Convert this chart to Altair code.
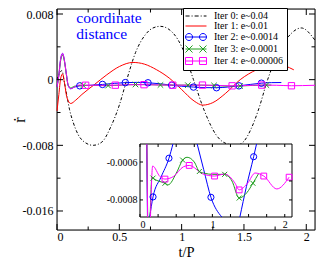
import altair as alt
import pandas as pd

SERIF = "Liberation Serif, DejaVu Serif, serif"

series_names = ["Iter 0: e~0.04", "Iter 1: e~0.01", "Iter 2: e~0.0014",
                "Iter 3: e~0.0001", "Iter 4: e~0.00006"]
series_colors = ["#000000", "#ff0000", "#0000ff", "#1f9e1f", "#ff00ff"]

# ---------------- main panel data ----------------
t_iter0 = [0.0, 0.02, 0.04, 0.06, 0.08, 0.10, 0.13, 0.17, 0.22, 0.29, 0.36, 0.43, 0.50, 0.56,
           0.63, 0.71, 0.77, 0.83, 0.93, 1.01, 1.095, 1.18, 1.28, 1.36, 1.44, 1.50, 1.56, 1.62,
           1.69, 1.76, 1.86, 1.96, 2.07]
v_iter0 = [0.0, 0.0008, 0.0011, -0.0004, -0.0020, -0.0036, -0.0052, -0.0067, -0.0076, -0.0080,
           -0.0076, -0.0058, -0.0031, 0.0, 0.0033, 0.0055, 0.0063, 0.0065, 0.0057, 0.0037, 0.0,
           -0.0037, -0.0068, -0.0078, -0.0080, -0.0075, -0.0059, -0.0035, 0.0, 0.0027, 0.0053,
           0.0063, 0.0048]

t_iter1 = [0.0, 0.015, 0.03, 0.045, 0.06, 0.08, 0.11, 0.15, 0.20, 0.30, 0.40, 0.50, 0.61, 0.70,
           0.80, 0.90, 1.00, 1.10, 1.17, 1.25, 1.35, 1.47, 1.60, 1.76, 1.90]
v_iter1 = [-0.0038, -0.0018, 0.0002, 0.0007, -0.0004, -0.0022, -0.0029, -0.0025, -0.0018, -0.0006,
           0.0006, 0.0016, 0.0021, 0.0019, 0.0012, 0.0002, -0.0012, -0.0026, -0.0031, -0.0028,
           -0.0017, 0.0, 0.0012, 0.0019, 0.0012]

t_iter2 = [0.0, 0.015, 0.03, 0.045, 0.06, 0.075, 0.09, 0.11, 0.14, 0.183, 0.27, 0.365, 0.46, 0.548,
           0.64, 0.73, 0.83, 0.92, 1.0, 1.095, 1.19, 1.28, 1.37, 1.46, 1.55, 1.64, 1.72, 1.80]
v_iter2 = [-0.0009, 0.0006, 0.0026, 0.0032, 0.0023, 0.0007, -0.0007, -0.0011, -0.0009, -0.00075,
           -0.00068, -0.00058, -0.00045, -0.00036, -0.00033, -0.00038, -0.0005, -0.00068, -0.0008,
           -0.0009, -0.00097, -0.00098, -0.0009, -0.00075, -0.00058, -0.00043, -0.00036, -0.00035]
marks_iter2 = [0.183, 0.365, 0.548, 0.73, 0.92, 1.095, 1.28, 1.46, 1.64]

t_iter3 = [0.0, 0.015, 0.03, 0.045, 0.06, 0.075, 0.09, 0.11, 0.14, 0.21, 0.31, 0.41, 0.52, 0.63,
           0.73, 0.83, 0.94, 1.05, 1.16, 1.26, 1.37, 1.47, 1.57, 1.68, 1.72]
v_iter3 = [-0.0009, 0.0005, 0.0024, 0.0030, 0.0022, 0.0006, -0.0007, -0.0010, -0.0008, -0.0007,
           -0.00071, -0.00072, -0.00066, -0.00059, -0.0006, -0.00065, -0.00066, -0.000665,
           -0.00067, -0.0007, -0.00079, -0.00077, -0.0007, -0.00066, -0.00066]
marks_iter3 = [0.21, 0.41, 0.63, 0.83, 1.05, 1.26, 1.47, 1.68]

t_iter4 = [0.0, 0.015, 0.03, 0.045, 0.06, 0.075, 0.09, 0.11, 0.14, 0.18, 0.23, 0.35, 0.468, 0.58,
           0.698, 0.81, 0.929, 1.05, 1.167, 1.28, 1.405, 1.52, 1.643, 1.76, 1.881, 1.97, 2.07]
v_iter4 = [-0.0009, 0.0006, 0.0026, 0.0032, 0.0023, 0.0007, -0.0007, -0.0011, -0.0009, -0.00065,
           -0.00068, -0.00069, -0.00067, -0.00062, -0.00061, -0.00064, -0.00067, -0.00067,
           -0.00066, -0.0007, -0.00075, -0.00071, -0.00066, -0.00068, -0.00074, -0.00072, -0.00068]
marks_iter4 = [0.23, 0.468, 0.698, 0.929, 1.167, 1.405, 1.643, 1.881]

# ---------------- inset data ----------------
in_u_iter2 = [0.093, 0.103, 0.133, 0.18, 0.29, 0.40, 0.455, 0.79, 0.88, 0.98, 1.13, 1.38, 1.47, 1.57, 1.61]
in_v_iter2 = [-0.000505, -0.00089, -0.00089, -0.000784, -0.00068, -0.00058, -0.000505, -0.000505,
              -0.00064, -0.000786, -0.00089, -0.00089, -0.00073, -0.000572, -0.000505]
in_seg_iter2 = [1, 1, 2, 2, 2, 2, 2, 3, 3, 3, 3, 4, 4, 4, 4]
in_marks_iter2 = [0.18, 0.40, 0.98, 1.57]

in_u_iter3 = [0.096, 0.106, 0.14, 0.165, 0.18, 0.345, 0.39, 0.50, 0.59, 0.65, 0.75, 0.82, 0.90, 1.00,
              1.17, 1.27, 1.37, 1.48, 1.56, 1.64]
in_v_iter3 = [-0.000505, -0.00089, -0.00089, -0.00068, -0.000685, -0.000712, -0.00072, -0.00066,
              -0.00059, -0.000575, -0.0006, -0.00065, -0.00066, -0.000665, -0.000665, -0.0007,
              -0.00079, -0.00076, -0.000712, -0.00066]
in_seg_iter3 = [1, 1] + [2] * 18
in_marks_iter3 = [0.18, 0.345, 0.59, 0.82, 1.17, 1.37, 1.56]

in_u_iter4 = [0.095, 0.105, 0.145, 0.175, 0.276, 0.345, 0.46, 0.60, 0.68, 0.87, 1.03, 1.17, 1.31,
              1.37, 1.49, 1.59, 1.71, 1.89, 2.06]
in_v_iter4 = [-0.000505, -0.00089, -0.00089, -0.000621, -0.000677, -0.00069, -0.000677, -0.000625,
              -0.000618, -0.000663, -0.000674, -0.000663, -0.00071, -0.000747, -0.00071, -0.000658,
              -0.000674, -0.000742, -0.00068]
in_seg_iter4 = [1, 1] + [2] * 17
in_marks_iter4 = [0.345, 0.68, 1.03, 1.37, 1.71, 2.06]

# ---------------- ticks ----------------
main_x_major = [0, 0.5, 1, 1.5, 2]
main_x_labels = ["0", "0.5", "1", "1.5", "2"]
main_x_minor = [0.25, 0.75, 1.25, 1.75]
main_y_major = [-0.016, -0.008, 0, 0.008]
main_y_labels = ["-0.016", "-0.008", "0", "0.008"]
main_y_minor = [-0.012, -0.004, 0.004]
in_x_ticks = [0, 0.25, 0.5, 0.75, 1, 1.25, 1.5, 1.75, 2]
in_x_major = [0, 1, 2]
in_x_labels = ["0", "1", "2"]
in_y_ticks = [-0.0008, -0.0007, -0.0006]
in_y_major = [-0.0008, -0.0006]
in_y_labels = ["-0.0008", "-0.0006"]

X_DOM = [0, 2.07]
Y_DOM = [-0.018315, 0.00861]
IX_DOM = [0, 2.1]
IY_DOM = [-0.00089, -0.000505]
W, H = 258, 221
IX_RANGE = [83, 235]
IY_RANGE = [208, 135]


def label_expr(values, labels):
    s = ""
    for v, l in zip(values, labels):
        s += f"abs(datum.value - ({v})) < 0.000000001 ? '{l}' : "
    return s + "''"


def long_df(ts, vs, name, segs=None):
    d = pd.DataFrame({"t": ts, "v": vs, "series": name})
    d["seg"] = [f"{name}-{s}" for s in (segs if segs else [0] * len(ts))]
    return d


def pick(ts, vs, marks, name):
    rows = [(t, v) for t, v in zip(ts, vs) if t in marks]
    return pd.DataFrame({"t": [r[0] for r in rows], "v": [r[1] for r in rows], "series": name})


color_scale = alt.Scale(domain=series_names, range=series_colors)


def XS():
    return alt.Scale(domain=X_DOM, nice=False, zero=False)


def YS():
    return alt.Scale(domain=Y_DOM, nice=False, zero=False)


def IXS():
    return alt.Scale(domain=IX_DOM, range=IX_RANGE, nice=False, zero=False)


def IYS():
    return alt.Scale(domain=IY_DOM, range=IY_RANGE, nice=False, zero=False)


dash_df = long_df(t_iter0, v_iter0, series_names[0])
solid_df = pd.concat([long_df(t_iter1, v_iter1, series_names[1]),
                      long_df(t_iter2, v_iter2, series_names[2]),
                      long_df(t_iter3, v_iter3, series_names[3]),
                      long_df(t_iter4, v_iter4, series_names[4])], ignore_index=True)
main_df = pd.concat([dash_df, solid_df], ignore_index=True)

ax_x = alt.Axis(orient="bottom", values=main_x_major, labelExpr=label_expr(main_x_major, main_x_labels),
                ticks=False, domain=False, grid=False, labelPadding=1, labelFont=SERIF,
                labelFontSize=12, labelColor="black", title="t/P", titleFont=SERIF,
                titleFontSize=14.5, titleFontWeight="normal", titleColor="black",
                titleY=26, titleBaseline="alphabetic")
ax_y = alt.Axis(orient="left", values=main_y_major, labelExpr=label_expr(main_y_major, main_y_labels),
                ticks=False, domain=False, grid=False, labelPadding=4, labelFont=SERIF,
                labelFontSize=12, labelColor="black", title="ṙ", titleFont=SERIF,
                titleFontSize=16, titleFontWeight="normal", titleColor="black",
                titleX=-33, titleBaseline="alphabetic")

# legend symbols (line + two markers), in symbol units
r, c, e = 0.78, 1.55, 2.33


def circ(cx):
    return f"M{cx + r:.2f},0A{r},{r},0,1,1,{cx - r:.2f},0A{r},{r},0,1,1,{cx + r:.2f},0"


def sq(cx):
    return f"M{cx - r:.2f},{-r}H{cx + r:.2f}V{r}H{cx - r:.2f}Z"


def xx(cx):
    return f"M{cx - r:.2f},{-r}L{cx + r:.2f},{r}M{cx - r:.2f},{r}L{cx + r:.2f},{-r}"


line_path = f"M{-e},0H{e}"
legend_paths = [
    "M-2.33,0H-1.43M-0.98,0H-0.76M-0.31,0H0.59M1.04,0H1.26M1.71,0H2.33",
    line_path,
    line_path + circ(-c) + circ(c),
    line_path + xx(-c) + xx(c),
    line_path + sq(-c) + sq(c),
]

leg = alt.Legend(title=None, orient="none", legendX=126, legendY=-1, fillColor="white",
                 strokeColor="black", padding=3, symbolSize=81, symbolStrokeWidth=1,
                 symbolOffset=5, labelOffset=13, labelFont=SERIF, labelFontSize=10,
                 labelColor="black", rowPadding=0, zindex=2)

layers = []

# legend carrier layer first (invisible points)
layers.append(alt.Chart(main_df).mark_point(opacity=0, filled=False, strokeWidth=1).encode(
    x=alt.X("t:Q", scale=XS(), axis=None),
    y=alt.Y("v:Q", scale=YS(), axis=None),
    color=alt.Color("series:N", scale=color_scale, legend=leg),
    shape=alt.Shape("series:N", scale=alt.Scale(domain=series_names, range=legend_paths), legend=leg),
))

# main frame (outline only)
layers.append(alt.Chart(pd.DataFrame({"a": [0]})).mark_rect(
    fill="white", fillOpacity=0, stroke="black", strokeWidth=1).encode(
    x=alt.XDatum(X_DOM[0], scale=XS(), axis=None), x2=alt.X2Datum(X_DOM[1]),
    y=alt.YDatum(Y_DOM[0], scale=YS(), axis=None), y2=alt.Y2Datum(Y_DOM[1])))

layers.append(alt.Chart(dash_df).mark_line(strokeWidth=1, interpolate="monotone", strokeDash=[3, 2, 1, 2]).encode(
    x=alt.X("t:Q", scale=XS(), axis=ax_x),
    y=alt.Y("v:Q", scale=YS(), axis=ax_y),
    color=alt.Color("series:N", scale=color_scale),
))
layers.append(alt.Chart(solid_df).mark_line(strokeWidth=1, interpolate="monotone").encode(
    x=alt.X("t:Q", scale=XS(), axis=None),
    y=alt.Y("v:Q", scale=YS(), axis=None),
    color=alt.Color("series:N", scale=color_scale),
    detail="seg:N",
))

CROSS = "M-1,-1L1,1M-1,1L1,-1"


def markers(df, shape, size, xs, ys):
    return alt.Chart(df).mark_point(shape=shape, size=size, filled=False, strokeWidth=1, opacity=1).encode(
        x=alt.X("t:Q", scale=xs, axis=None),
        y=alt.Y("v:Q", scale=ys, axis=None),
        color=alt.Color("series:N", scale=color_scale),
    )


layers.append(markers(pick(t_iter2, v_iter2, marks_iter2, series_names[2]), "circle", 42, XS(), YS()))
layers.append(markers(pick(t_iter3, v_iter3, marks_iter3, series_names[3]), CROSS, 30, XS(), YS()))
layers.append(markers(pick(t_iter4, v_iter4, marks_iter4, series_names[4]), "square", 40, XS(), YS()))

layers.append(alt.Chart(pd.DataFrame({"a": [0]})).mark_text(
    text=["coordinate", "distance"], align="left", baseline="alphabetic", font=SERIF,
    fontSize=15.5, color="#0000ff", lineHeight=15.5).encode(
    x=alt.XDatum(0.155, scale=XS(), axis=None), y=alt.YDatum(0.0069, scale=YS(), axis=None)))


def xticks_rules(vals, y_at, off, xs, ys):
    return alt.Chart(pd.DataFrame({"v": vals})).mark_rule(color="black", strokeWidth=1, y2Offset=off).encode(
        x=alt.X("v:Q", scale=xs, axis=None), y=alt.YDatum(y_at, scale=ys, axis=None), y2=alt.Y2Datum(y_at))


def yticks_rules(vals, x_at, off, xs, ys):
    return alt.Chart(pd.DataFrame({"v": vals})).mark_rule(color="black", strokeWidth=1, x2Offset=off).encode(
        y=alt.Y("v:Q", scale=ys, axis=None), x=alt.XDatum(x_at, scale=xs, axis=None), x2=alt.X2Datum(x_at))


layers += [
    xticks_rules(main_x_major, Y_DOM[0], -6, XS(), YS()),
    xticks_rules(main_x_minor, Y_DOM[0], -3.5, XS(), YS()),
    xticks_rules(main_x_major, Y_DOM[1], 6, XS(), YS()),
    xticks_rules(main_x_minor, Y_DOM[1], 3.5, XS(), YS()),
    yticks_rules(main_y_major, X_DOM[0], 6, XS(), YS()),
    yticks_rules(main_y_minor, X_DOM[0], 3.5, XS(), YS()),
    yticks_rules(main_y_major, X_DOM[1], -6, XS(), YS()),
    yticks_rules(main_y_minor, X_DOM[1], -3.5, XS(), YS()),
]

# ---------------- inset ----------------
in_df = pd.concat([long_df(in_u_iter2, in_v_iter2, series_names[2], in_seg_iter2),
                   long_df(in_u_iter3, in_v_iter3, series_names[3], in_seg_iter3),
                   long_df(in_u_iter4, in_v_iter4, series_names[4], in_seg_iter4)], ignore_index=True)

ax_ix = alt.Axis(orient="bottom", offset=IY_RANGE[0] - H, values=in_x_major,
                 labelExpr=label_expr(in_x_major, in_x_labels),
                 ticks=False, domain=False, grid=False, labelPadding=2, labelFont=SERIF,
                 labelFontSize=10, labelColor="black", title=None, zindex=2)
ax_iy = alt.Axis(orient="left", offset=-IX_RANGE[0], values=in_y_major,
                 labelExpr=label_expr(in_y_major, in_y_labels),
                 ticks=False, domain=False, grid=False, labelPadding=3, labelFont=SERIF,
                 labelFontSize=10, labelColor="black", title=None, zindex=2)

layers.append(alt.Chart(pd.DataFrame({"a": [0]})).mark_rect(fill="white", stroke="black", strokeWidth=1).encode(
    x=alt.XDatum(IX_DOM[0], scale=IXS(), axis=None), x2=alt.X2Datum(IX_DOM[1]),
    y=alt.YDatum(IY_DOM[0], scale=IYS(), axis=None), y2=alt.Y2Datum(IY_DOM[1])))

layers.append(alt.Chart(in_df).mark_line(strokeWidth=1, interpolate="monotone").encode(
    x=alt.X("t:Q", scale=IXS(), axis=ax_ix),
    y=alt.Y("v:Q", scale=IYS(), axis=ax_iy),
    color=alt.Color("series:N", scale=color_scale),
    detail="seg:N",
))

layers.append(markers(pick(in_u_iter2, in_v_iter2, in_marks_iter2, series_names[2]), "circle", 38, IXS(), IYS()))
layers.append(markers(pick(in_u_iter3, in_v_iter3, in_marks_iter3, series_names[3]), CROSS, 25, IXS(), IYS()))
layers.append(markers(pick(in_u_iter4, in_v_iter4, in_marks_iter4, series_names[4]), "square", 34, IXS(), IYS()))

layers += [
    xticks_rules(in_x_ticks, IY_DOM[0], -3, IXS(), IYS()),
    xticks_rules(in_x_ticks, IY_DOM[1], 3, IXS(), IYS()),
    yticks_rules(in_y_ticks, IX_DOM[0], 3, IXS(), IYS()),
    yticks_rules(in_y_ticks, IX_DOM[1], -3, IXS(), IYS()),
]

chart = alt.layer(*layers).resolve_scale(x="independent", y="independent").properties(
    width=W, height=H,
    padding={"left": 49, "top": 1, "right": 1, "bottom": 29},
    autosize=alt.AutoSizeParams(type="none"),
).configure_view(stroke=None).configure(background="white")

chart.save("out.html", embed_options={"renderer": "svg", "actions": False})
